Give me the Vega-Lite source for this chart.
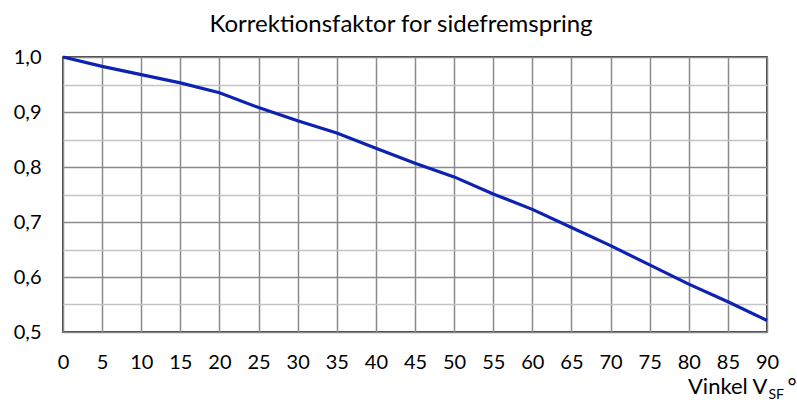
{
  "$schema": "https://vega.github.io/schema/vega-lite/v6.json",
  "autosize": "none",
  "width": 704,
  "height": 275,
  "padding": {"left": 63, "top": 57, "right": 30, "bottom": 71},
  "background": "white",
  "config": {
    "view": {"stroke": "black", "strokeWidth": 1.5},
    "font": "Lato"
  },
  "title": {
    "text": "Korrektionsfaktor for sidefremspring",
    "font": "Lato",
    "fontSize": 24,
    "fontWeight": "normal",
    "color": "black",
    "anchor": "middle",
    "dx": -14,
    "offset": 10
  },
  "data": {
    "values": [
      {"vinkel": 0, "faktor": 1.0},
      {"vinkel": 5, "faktor": 0.983},
      {"vinkel": 10, "faktor": 0.968},
      {"vinkel": 15, "faktor": 0.953},
      {"vinkel": 20, "faktor": 0.935},
      {"vinkel": 25, "faktor": 0.908},
      {"vinkel": 30, "faktor": 0.884},
      {"vinkel": 35, "faktor": 0.862},
      {"vinkel": 40, "faktor": 0.834},
      {"vinkel": 45, "faktor": 0.807},
      {"vinkel": 50, "faktor": 0.782},
      {"vinkel": 55, "faktor": 0.751},
      {"vinkel": 60, "faktor": 0.723},
      {"vinkel": 65, "faktor": 0.690},
      {"vinkel": 70, "faktor": 0.657},
      {"vinkel": 75, "faktor": 0.622},
      {"vinkel": 80, "faktor": 0.587},
      {"vinkel": 85, "faktor": 0.555},
      {"vinkel": 90, "faktor": 0.521}
    ]
  },
  "layer": [
    {
      "mark": {"type": "line", "color": "#0c22b0", "strokeWidth": 3.2, "clip": false},
      "encoding": {
        "x": {
          "field": "vinkel",
          "type": "quantitative",
          "scale": {"domain": [0, 90], "nice": false},
          "axis": {
            "orient": "bottom",
            "values": [0,5,10,15,20,25,30,35,40,45,50,55,60,65,70,75,80,85,90],
            "domain": false,
            "ticks": false,
            "grid": true,
            "gridColor": "#8a8a8a",
            "gridWidth": 1.5,
            "gridOpacity": 1,
            "labelFont": "Lato",
            "labelFontSize": 20,
            "labelColor": "black",
            "labelPadding": 20,
            "labelFlush": false,
            "labelOverlap": false,
            "title": "Vinkel V",
            "titleFont": "Lato",
            "titleFontSize": 22,
            "titleFontWeight": "normal",
            "titleColor": "black",
            "titleAlign": "right",
            "titleBaseline": "alphabetic",
            "titleX": 704,
            "titleY": 61
          }
        },
        "y": {
          "field": "faktor",
          "type": "quantitative",
          "scale": {"domain": [0.5, 1.0], "nice": false, "zero": false},
          "axis": {
            "orient": "left",
            "values": [0.5,0.55,0.6,0.65,0.7,0.75,0.8,0.85,0.9,0.95,1.0],
            "domain": false,
            "ticks": false,
            "grid": true,
            "gridColor": {"condition": {"test": "round(datum.value*100) % 10 == 0", "value": "#8a8a8a"}, "value": "#c4c4c4"},
            "gridWidth": 1.5,
            "gridOpacity": 1,
            "labelExpr": "round(datum.value*100) % 10 == 0 ? replace(format(datum.value, '.1f'), '.', ',') : ''",
            "labelFont": "Lato",
            "labelFontSize": 20,
            "labelColor": "black",
            "labelPadding": 22,
            "labelFlush": false,
            "labelOverlap": false,
            "title": null
          }
        }
      }
    },
    {
      "mark": {"type": "line", "strokeOpacity": 0},
      "encoding": {
        "x": {
          "field": "vinkel",
          "type": "quantitative",
          "axis": {
            "orient": "bottom",
            "domain": false, "ticks": false, "labels": false, "grid": false,
            "title": "SF",
            "titleFont": "Lato",
            "titleFontSize": 14,
            "titleFontWeight": "normal",
            "titleColor": "black",
            "titleAlign": "left",
            "titleBaseline": "alphabetic",
            "titleX": 705,
            "titleY": 66
          }
        }
      }
    },
    {
      "mark": {"type": "line", "strokeOpacity": 0},
      "encoding": {
        "x": {
          "field": "vinkel",
          "type": "quantitative",
          "axis": {
            "orient": "bottom",
            "domain": false, "ticks": false, "labels": false, "grid": false,
            "title": "°",
            "titleFont": "Lato",
            "titleFontSize": 22,
            "titleFontWeight": "normal",
            "titleColor": "black",
            "titleAlign": "left",
            "titleBaseline": "alphabetic",
            "titleX": 724,
            "titleY": 61
          }
        }
      }
    }
  ],
  "resolve": {"axis": {"x": "independent"}}
}
